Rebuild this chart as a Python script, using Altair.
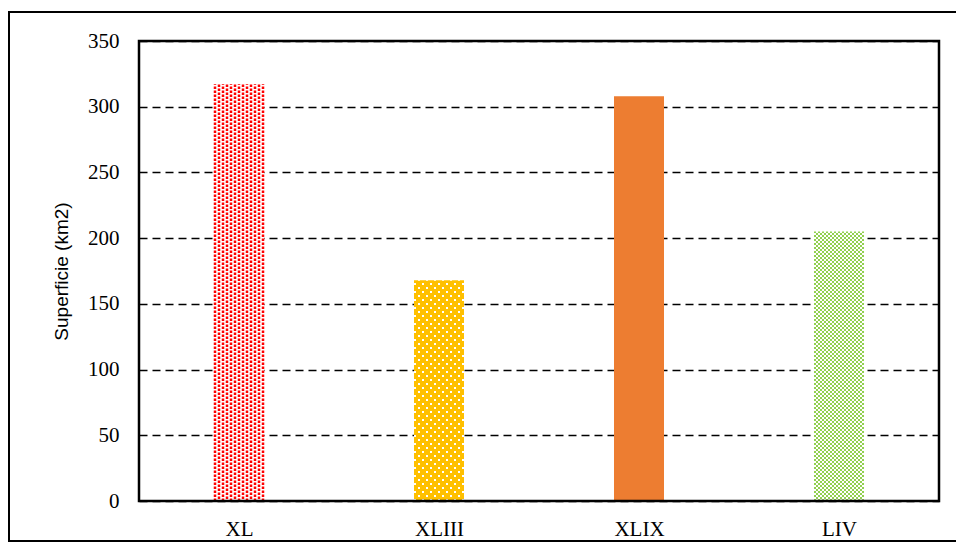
import json
import altair as alt
import pandas as pd

# Surface (km2) per unit
categories = ["XL", "XLIII", "XLIX", "LIV"]
values = [317, 168, 308, 205]
base_colors = ["#FFFFFF", "#FFC000", "#ED7D31", "#FFFFFF"]
dot_colors = ["#FF0000", "#FFFFFF", None, "#92D050"]
y_ticks = [0, 50, 100, 150, 200, 250, 300, 350]

W, H = 800, 460
HALF = 0.125            # half bar width, in category units
PX = 4.0 / W            # category units per pixel
BAR_PX = int(2 * HALF / PX)

# fill pattern per bar: (column spacing px, dot size px, dash, dash offset of odd columns)
patterns = {
    0: (4, 2.5, [2.5, 1.5], 2),
    1: (4, 2, [2, 6], 4),
    3: (2, 2, [2, 2], 2),
}

x_scale = alt.Scale(domain=[-0.5, 3.5], nice=False, zero=False, padding=0)
y_scale = alt.Scale(domain=[0, 350], nice=False, padding=0)

bars_df = pd.DataFrame({
    "cat": categories,
    "value": values,
    "lo": [i - HALF for i in range(len(categories))],
    "hi": [i + HALF for i in range(len(categories))],
    "base": base_colors,
})

label_expr = json.dumps(categories) + "[datum.value]"

base = alt.Chart(bars_df).mark_rect(strokeWidth=0).encode(
    x=alt.X("lo:Q", scale=x_scale,
            axis=alt.Axis(values=list(range(len(categories))), labelExpr=label_expr,
                          grid=False, ticks=False, domain=False, title=None,
                          labelFont="Liberation Serif", labelFontSize=21,
                          labelColor="#000000", labelPadding=17)),
    x2="hi:Q",
    y=alt.Y("value:Q", scale=y_scale,
            axis=alt.Axis(values=y_ticks, grid=True, gridDash=[8, 5], gridColor="#000000",
                          gridWidth=1.4, ticks=False, domain=False,
                          title="Superficie (km2)", titleFont="Liberation Sans",
                          titleFontSize=19, titleFontWeight="normal", titleColor="#000000",
                          titlePadding=16,
                          labelFont="Liberation Serif", labelFontSize=21,
                          labelColor="#000000", labelPadding=20)),
    y2=alt.datum(0),
    color=alt.Color("base:N", scale=None, legend=None),
)

layers = [base]
for i, (spacing, dot, dash, shift) in patterns.items():
    offsets = list(range(1, BAR_PX, spacing))
    for parity in (0, 1):
        cols = offsets[parity::2]
        df = pd.DataFrame({
            "x": [i - HALF + o * PX for o in cols],
            "zero": [0] * len(cols),
            "value": [values[i]] * len(cols),
        })
        # dashes start at the baseline so the dot rows line up on whole pixels
        layers.append(
            alt.Chart(df).mark_rule(
                strokeWidth=dot, strokeDash=dash,
                strokeDashOffset=shift * parity, color=dot_colors[i],
            ).encode(
                x=alt.X("x:Q", scale=x_scale),
                y=alt.Y("zero:Q", scale=y_scale),
                y2="value:Q",
            )
        )

one = alt.Data(values=[{}])
# plot area border
layers.append(
    alt.Chart(one).mark_rect(fill=None, stroke="#000000", strokeWidth=2.5).encode(
        x=alt.value(0), x2=alt.value(W), y=alt.value(0), y2=alt.value(H)
    )
)
# outer chart frame
layers.append(
    alt.Chart(one).mark_rect(fill=None, stroke="#000000", strokeWidth=2).encode(
        x=alt.value(-130), x2=alt.value(W + 40), y=alt.value(-29), y2=alt.value(H + 40)
    )
)

chart = alt.layer(*layers).properties(
    width=W, height=H,
    autosize=alt.AutoSizeParams(type="none"),
    padding={"left": 139, "top": 41, "right": 17, "bottom": 53},
    background="#FFFFFF",
).configure_view(stroke=None)

chart.save("out.html", embed_options={"renderer": "svg", "actions": False})
